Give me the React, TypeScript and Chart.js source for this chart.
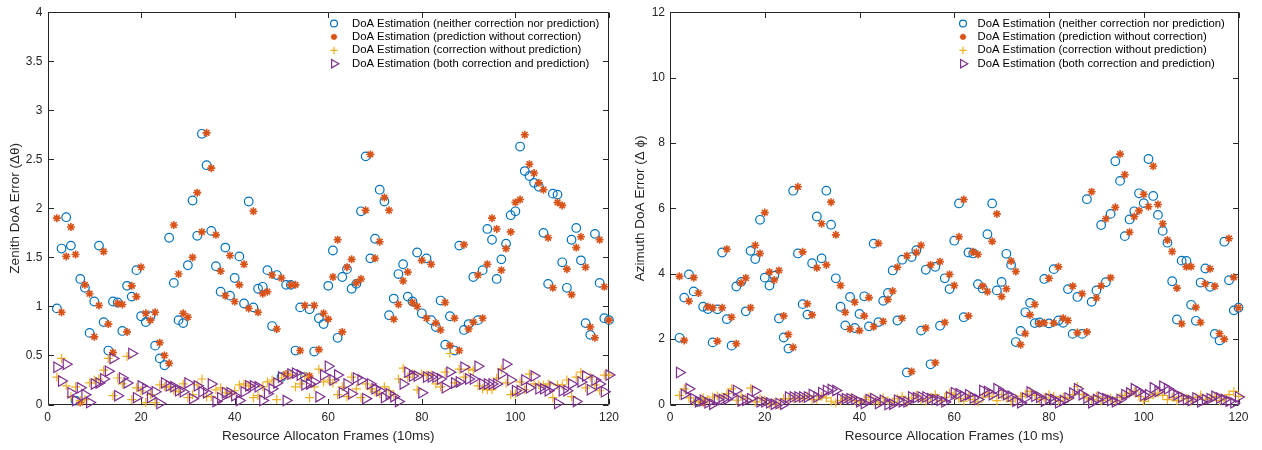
import React, { useEffect, useRef } from 'react';
import { Chart, registerables } from 'chart.js';

Chart.register(...registerables);

// ---------------- DATA ----------------
const frames = [
  2, 3, 4, 5, 6, 7, 8, 9, 10, 11, 12, 13, 14, 15, 16, 17, 18, 19, 20, 21, 22, 23, 24, 25, 26, 27, 28, 29, 30,
  31, 32, 33, 34, 35, 36, 37, 38, 39, 40, 41, 42, 43, 44, 45, 46, 47, 48, 49, 50, 51, 52, 53, 54, 55, 56, 57, 58, 59, 60,
  61, 62, 63, 64, 65, 66, 67, 68, 69, 70, 71, 72, 73, 74, 75, 76, 77, 78, 79, 80, 81, 82, 83, 84, 85, 86, 87, 88, 89, 90,
  91, 92, 93, 94, 95, 96, 97, 98, 99, 100, 101, 102, 103, 104, 105, 106, 107, 108, 109, 110, 111, 112, 113, 114, 115, 116, 117, 118, 119, 120,
];

const legendLabels = [
  'DoA Estimation (neither correction nor prediction)',
  'DoA Estimation (prediction without correction)',
  'DoA Estimation (correction without prediction)',
  'DoA Estimation (both correction and prediction)',
];

// Zenith (left panel)
const zenNeither = [
  0.98, 1.59, 1.91, 1.62, 0.04, 1.28, 1.19, 0.73, 1.05, 1.62, 0.84, 0.55, 1.05, 1.04, 0.75, 1.21, 1.10, 1.37, 0.90, 0.84, 0.90, 0.60, 0.47, 0.40, 1.70, 1.24, 0.86, 0.83, 1.42,
  2.08, 1.72, 2.76, 2.44, 1.77, 1.41, 1.15, 1.60, 1.11, 1.29, 1.51, 1.03, 2.07, 0.99, 1.18, 1.20, 1.37, 0.80, 1.32, 0.28, 1.22, 1.22, 0.55, 0.99, 0.28, 0.97, 0.54, 0.88, 0.82, 1.21,
  1.57, 0.68, 1.30, 1.38, 1.18, 1.23, 1.97, 2.53, 1.49, 1.69, 2.19, 2.07, 0.91, 1.08, 1.33, 1.43, 1.10, 1.05, 1.55, 0.93, 1.49, 0.86, 0.79, 1.06, 0.61, 0.90, 0.55, 1.62, 0.76, 0.82,
  1.30, 0.86, 1.37, 1.79, 1.68, 1.28, 1.48, 1.64, 1.93, 1.97, 2.63, 2.38, 2.33, 2.26, 2.22, 1.75, 1.23, 2.15, 2.14, 1.45, 1.19, 1.68, 1.80, 1.47, 0.83, 0.71, 1.74, 1.24, 0.88, 0.86,
];
const zenPrediction = [
  1.90, 0.94, 1.51, 1.81, 1.53, 0.02, 1.22, 1.13, 0.69, 1.01, 1.56, 0.82, 0.53, 1.03, 1.02, 0.74, 1.21, 1.10, 1.40, 0.93, 0.86, 0.94, 0.63, 0.50, 0.42, 1.83, 1.33, 0.93, 0.89,
  1.50, 2.16, 1.76, 2.77, 2.41, 1.73, 1.36, 1.11, 1.52, 1.05, 1.22, 1.43, 0.98, 1.97, 0.94, 1.13, 1.15, 1.32, 0.77, 1.29, 0.31, 1.22, 1.22, 0.55, 1.01, 0.29, 1.01, 0.56, 0.93, 0.87,
  1.30, 1.68, 0.74, 1.40, 1.48, 1.24, 1.28, 1.98, 2.55, 1.49, 1.66, 2.11, 1.98, 0.87, 1.02, 1.26, 1.35, 1.04, 1.00, 1.47, 0.88, 1.43, 0.83, 0.76, 1.04, 0.60, 0.88, 0.55, 1.63, 0.77,
  0.84, 1.32, 0.88, 1.43, 1.90, 1.79, 1.37, 1.59, 1.76, 2.06, 2.09, 2.75, 2.45, 2.36, 2.26, 2.19, 1.70, 1.19, 2.06, 2.03, 1.38, 1.12, 1.60, 1.71, 1.40, 0.79, 0.68, 1.68, 1.20, 0.86,
];
const zenCorrection = [
  0.28, 0.47, 0.19, 0.08, 0.18, 0.04, 0.05, 0.22, 0.25, 0.26, 0.35, 0.47, 0.09, 0.27, 0.21, 0.49, 0.05, 0.17, 0.14, 0.02, 0.10, 0.02, 0.20, 0.18, 0.18, 0.14, 0.13, 0.21, 0.07,
  0.10, 0.20, 0.26, 0.08, 0.08, 0.15, 0.17, 0.12, 0.11, 0.14, 0.20, 0.21, 0.19, 0.07, 0.09, 0.18, 0.23, 0.25, 0.05, 0.27, 0.30, 0.30, 0.18, 0.21, 0.29, 0.07, 0.18, 0.36, 0.23, 0.25,
  0.22, 0.10, 0.18, 0.08, 0.28, 0.16, 0.07, 0.21, 0.16, 0.13, 0.11, 0.18, 0.14, 0.10, 0.26, 0.37, 0.28, 0.31, 0.15, 0.31, 0.30, 0.30, 0.21, 0.18, 0.33, 0.52, 0.22, 0.36, 0.28, 0.36,
  0.35, 0.19, 0.16, 0.15, 0.15, 0.27, 0.36, 0.22, 0.10, 0.11, 0.23, 0.15, 0.31, 0.21, 0.20, 0.20, 0.21, 0.07, 0.20, 0.20, 0.25, 0.08, 0.28, 0.33, 0.17, 0.28, 0.20, 0.14, 0.30, 0.30,
];
const zenBoth = [
  0.38, 0.24, 0.41, 0.12, 0.04, 0.17, 0.10, 0.02, 0.21, 0.22, 0.26, 0.34, 0.47, 0.09, 0.27, 0.22, 0.52, 0.07, 0.19, 0.16, 0.07, 0.13, 0.01, 0.22, 0.19, 0.18, 0.14, 0.13, 0.22,
  0.06, 0.19, 0.13, 0.12, 0.21, 0.03, 0.07, 0.12, 0.12, 0.09, 0.04, 0.13, 0.19, 0.19, 0.18, 0.04, 0.11, 0.16, 0.22, 0.28, 0.04, 0.31, 0.32, 0.30, 0.20, 0.21, 0.23, 0.08, 0.30, 0.39,
  0.25, 0.30, 0.12, 0.21, 0.11, 0.27, 0.25, 0.06, 0.21, 0.16, 0.14, 0.07, 0.11, 0.08, 0.03, 0.21, 0.33, 0.29, 0.29, 0.12, 0.28, 0.28, 0.28, 0.26, 0.17, 0.33, 0.22, 0.23, 0.38, 0.26,
  0.26, 0.39, 0.21, 0.21, 0.21, 0.21, 0.31, 0.41, 0.25, 0.14, 0.14, 0.25, 0.17, 0.29, 0.16, 0.16, 0.14, 0.18, 0.01, 0.14, 0.14, 0.21, 0.03, 0.23, 0.29, 0.15, 0.25, 0.21, 0.13, 0.30,
];

// Azimuth (right panel)
const aziNeither = [
  2.04, 3.27, 3.98, 3.46, 0.08, 2.99, 2.92, 1.90, 2.91, 4.65, 2.61, 1.80, 3.61, 3.75, 2.85, 4.70, 4.45, 5.65, 3.88, 3.64, 3.94, 2.63, 2.05, 1.71, 6.54, 4.62, 3.07, 2.75, 4.32,
  5.75, 4.47, 6.54, 5.50, 3.86, 2.99, 2.42, 3.29, 2.34, 2.77, 3.31, 2.39, 4.92, 2.52, 3.17, 3.41, 4.10, 2.57, 4.43, 0.98, 4.51, 4.72, 2.26, 4.12, 1.23, 4.21, 2.41, 3.86, 3.53, 5.01,
  6.15, 2.67, 4.65, 4.62, 3.68, 3.55, 5.21, 6.15, 3.49, 3.75, 4.61, 4.27, 1.91, 2.25, 2.82, 3.11, 2.49, 2.51, 3.84, 2.48, 4.14, 2.57, 2.50, 3.53, 2.16, 3.29, 2.16, 6.28, 3.14, 3.49,
  5.49, 3.74, 5.83, 7.44, 6.84, 5.15, 5.66, 5.91, 6.46, 6.16, 7.51, 6.38, 5.80, 5.31, 4.95, 3.77, 2.60, 4.40, 4.39, 3.05, 2.56, 3.73, 4.16, 3.60, 2.16, 1.96, 4.98, 3.80, 2.88, 2.96,
];
const aziPrediction = [
  3.92, 1.96, 3.16, 3.88, 3.41, 0.06, 2.99, 2.96, 1.94, 2.96, 4.75, 2.67, 1.86, 3.72, 3.87, 2.96, 4.87, 4.62, 5.87, 4.05, 3.81, 4.10, 2.71, 2.14, 1.75, 6.66, 4.67, 3.08, 2.74,
  4.18, 5.53, 4.27, 6.19, 5.19, 3.64, 2.82, 2.31, 3.13, 2.26, 2.71, 3.27, 2.38, 4.93, 2.54, 3.21, 3.47, 4.20, 2.64, 4.55, 1.01, 4.65, 4.87, 2.34, 4.27, 1.28, 4.37, 2.51, 3.98, 3.64,
  5.13, 6.27, 2.71, 4.67, 4.59, 3.62, 3.45, 4.99, 5.83, 3.30, 3.54, 4.39, 4.07, 1.83, 2.17, 2.74, 3.06, 2.48, 2.50, 3.86, 2.49, 4.21, 2.64, 2.57, 3.62, 2.20, 3.39, 2.22, 6.51, 3.26,
  3.63, 5.68, 3.88, 6.03, 7.66, 7.03, 5.27, 5.75, 5.93, 6.43, 6.05, 7.29, 6.12, 5.53, 5.03, 4.68, 3.56, 2.47, 4.21, 4.22, 2.97, 2.51, 3.69, 4.15, 3.62, 2.17, 2.00, 5.08, 3.89, 2.96,
];
const aziCorrection = [
  0.28, 0.48, 0.20, 0.10, 0.08, 0.21, 0.15, 0.23, 0.26, 0.23, 0.33, 0.48, 0.13, 0.25, 0.18, 0.50, 0.08, 0.18, 0.13, 0.01, 0.05, 0.00, 0.18, 0.17, 0.18, 0.20, 0.18, 0.25, 0.15,
  0.15, 0.25, 0.20, 0.10, 0.05, 0.12, 0.18, 0.20, 0.12, 0.08, 0.15, 0.22, 0.10, 0.05, 0.20, 0.12, 0.08, 0.18, 0.25, 0.05, 0.20, 0.28, 0.15, 0.10, 0.22, 0.30, 0.12, 0.22, 0.35, 0.30,
  0.18, 0.10, 0.25, 0.15, 0.08, 0.22, 0.35, 0.25, 0.12, 0.30, 0.20, 0.10, 0.18, 0.25, 0.32, 0.40, 0.28, 0.15, 0.20, 0.30, 0.25, 0.12, 0.22, 0.18, 0.30, 0.55, 0.30, 0.20, 0.15, 0.25,
  0.12, 0.20, 0.18, 0.10, 0.22, 0.28, 0.35, 0.40, 0.25, 0.10, 0.20, 0.30, 0.35, 0.28, 0.15, 0.22, 0.12, 0.25, 0.18, 0.10, 0.22, 0.28, 0.15, 0.20, 0.25, 0.12, 0.18, 0.30, 0.40, 0.25,
];
const aziBoth = [
  0.98, 0.31, 0.48, 0.18, 0.08, 0.13, 0.05, 0.01, 0.15, 0.15, 0.17, 0.28, 0.43, 0.11, 0.13, 0.18, 0.41, 0.08, 0.08, 0.05, 0.01, 0.03, 0.01, 0.23, 0.23, 0.23, 0.23, 0.23, 0.31,
  0.23, 0.36, 0.43, 0.46, 0.43, 0.18, 0.18, 0.18, 0.16, 0.08, 0.03, 0.15, 0.18, 0.03, 0.13, 0.00, 0.01, 0.13, 0.08, 0.08, 0.23, 0.21, 0.23, 0.23, 0.18, 0.15, 0.13, 0.08, 0.23, 0.36,
  0.33, 0.25, 0.30, 0.20, 0.15, 0.43, 0.40, 0.30, 0.48, 0.35, 0.30, 0.25, 0.10, 0.05, 0.20, 0.38, 0.25, 0.22, 0.10, 0.18, 0.15, 0.05, 0.12, 0.20, 0.35, 0.48, 0.30, 0.20, 0.05, 0.15,
  0.22, 0.18, 0.12, 0.08, 0.15, 0.30, 0.35, 0.48, 0.40, 0.28, 0.30, 0.51, 0.40, 0.56, 0.48, 0.35, 0.30, 0.22, 0.15, 0.12, 0.20, 0.08, 0.15, 0.18, 0.25, 0.20, 0.15, 0.10, 0.05, 0.23,
];

const xTicks = [0, 20, 40, 60, 80, 100, 120];
const zenTicks = [0, 0.5, 1, 1.5, 2, 2.5, 3, 3.5, 4];
const aziTicks = [0, 2, 4, 6, 8, 10, 12];

// ---------------- STYLE ----------------
const FONT_FAMILY = '"Liberation Sans", Arial, Helvetica, sans-serif';
const AXIS_COLOR = '#262626';
const TICK_FONT = 12;
const TITLE_FONT = 13.5;
const LEGEND_FONT = 11.3;
const TICK_LEN = 5.5;

type MarkerStyle = { style: string; rot: number; r: number; bw: number; color: string };
const SERIES_STYLES: MarkerStyle[] = [
  { style: 'circle', rot: 0, r: 4.3, bw: 1.2, color: '#0072BD' },
  { style: 'star', rot: 0, r: 4, bw: 1.6, color: '#D95319' },
  { style: 'cross', rot: 0, r: 4.5, bw: 1.2, color: '#EDB120' },
  { style: 'triangle', rot: 90, r: 6, bw: 1.2, color: '#7E2F8E' },
];

function drawMarker(ctx: CanvasRenderingContext2D, m: MarkerStyle, x: number, y: number, scale: number) {
  const r = m.r * scale;
  ctx.save();
  ctx.strokeStyle = m.color;
  ctx.lineWidth = m.bw;
  ctx.beginPath();
  if (m.style === 'circle') {
    ctx.arc(x, y, r, 0, Math.PI * 2);
  } else if (m.style === 'star') {
    ctx.moveTo(x - r, y); ctx.lineTo(x + r, y);
    ctx.moveTo(x, y - r); ctx.lineTo(x, y + r);
    const d = r * Math.SQRT1_2;
    ctx.moveTo(x - d, y - d); ctx.lineTo(x + d, y + d);
    ctx.moveTo(x - d, y + d); ctx.lineTo(x + d, y - d);
  } else if (m.style === 'cross') {
    ctx.moveTo(x - r, y); ctx.lineTo(x + r, y);
    ctx.moveTo(x, y - r); ctx.lineTo(x, y + r);
  } else {
    ctx.moveTo(x + r, y);
    ctx.lineTo(x - r / 2, y - r * 0.866);
    ctx.lineTo(x - r / 2, y + r * 0.866);
    ctx.closePath();
  }
  ctx.stroke();
  ctx.restore();
}

const boxPlugin = {
  id: 'matlabBox',
  beforeDatasetsDraw(chart: any) {
    const { ctx, chartArea: a, scales } = chart;
    const L = Math.round(a.left) + 0.5;
    const R = Math.round(a.right) - 0.5;
    const T = Math.round(a.top) + 0.5;
    const B = Math.round(a.bottom) - 0.5;
    ctx.save();
    ctx.strokeStyle = AXIS_COLOR;
    ctx.lineWidth = 1;
    ctx.beginPath();
    ctx.rect(L, T, R - L, B - T);
    scales.x.ticks.forEach((t: any) => {
      const px = Math.round(scales.x.getPixelForValue(t.value)) + 0.5;
      ctx.moveTo(px, B); ctx.lineTo(px, B - TICK_LEN);
      ctx.moveTo(px, T); ctx.lineTo(px, T + TICK_LEN);
    });
    scales.y.ticks.forEach((t: any) => {
      const py = Math.round(scales.y.getPixelForValue(t.value)) + 0.5;
      ctx.moveTo(L, py); ctx.lineTo(L + TICK_LEN, py);
      ctx.moveTo(R, py); ctx.lineTo(R - TICK_LEN, py);
    });
    ctx.stroke();
    ctx.restore();
  },
};

const legendPlugin = {
  id: 'matlabLegend',
  afterDraw(chart: any, _args: any, opts: any) {
    const ctx = chart.ctx as CanvasRenderingContext2D;
    ctx.save();
    ctx.font = `${LEGEND_FONT}px ${FONT_FAMILY}`;
    ctx.textBaseline = 'middle';
    ctx.textAlign = 'left';
    ctx.fillStyle = '#000000';
    chart.data.datasets.forEach((ds: any, i: number) => {
      const y = opts.y0 + i * opts.dy;
      drawMarker(ctx, SERIES_STYLES[i], opts.markerX, y, 0.8);
      ctx.fillText(ds.label, opts.textX, y);
    });
    ctx.restore();
  },
};

type Panel = {
  series: number[][];
  yMax: number;
  yTicks: number[];
  yTitle: string;
  xTitle: string;
  width: number;
  height: number;
  area: { left: number; right: number; top: number; bottom: number };
  legend: { markerX: number; textX: number; y0: number; dy: number };
  yTitlePad: number;
};

function buildConfig(p: Panel): any {
  return {
    type: 'scatter',
    data: {
      datasets: SERIES_STYLES.map((s, i) => ({
        label: legendLabels[i],
        data: frames.map((f, j) => ({ x: f, y: p.series[i][j] })),
        pointStyle: s.style,
        pointRotation: s.rot,
        pointRadius: s.r,
        pointHoverRadius: s.r,
        pointBorderWidth: s.bw,
        borderColor: s.color,
        backgroundColor: 'rgba(0,0,0,0)',
        pointBackgroundColor: 'rgba(0,0,0,0)',
        showLine: false,
        clip: false,
        order: 3 - i,
      })),
    },
    options: {
      responsive: false,
      animation: false,
      devicePixelRatio: 1,
      events: [],
      layout: {
        padding: { left: 0, top: p.area.top, right: p.width - p.area.right, bottom: 0 },
      },
      plugins: {
        legend: { display: false },
        tooltip: { enabled: false },
        matlabLegend: p.legend,
      },
      scales: {
        x: {
          type: 'linear',
          min: 0,
          max: 120,
          afterBuildTicks: (s: any) => { s.ticks = xTicks.map((v) => ({ value: v })); },
          afterFit: (s: any) => { s.height = p.height - p.area.bottom; },
          grid: { display: false, drawTicks: false },
          border: { display: false },
          ticks: {
            color: AXIS_COLOR,
            font: { family: FONT_FAMILY, size: TICK_FONT },
            padding: 6,
            maxRotation: 0,
            callback: (v: any) => `${v}`,
          },
          title: {
            display: true,
            text: p.xTitle,
            color: AXIS_COLOR,
            font: { family: FONT_FAMILY, size: TITLE_FONT },
            padding: { top: 0, bottom: 6 },
          },
        },
        y: {
          type: 'linear',
          min: 0,
          max: p.yMax,
          afterBuildTicks: (s: any) => { s.ticks = p.yTicks.map((v) => ({ value: v })); },
          afterFit: (s: any) => { s.width = p.area.left; },
          grid: { display: false, drawTicks: false },
          border: { display: false },
          ticks: {
            color: AXIS_COLOR,
            font: { family: FONT_FAMILY, size: TICK_FONT },
            padding: 5,
            callback: (v: any) => `${v}`,
          },
          title: {
            display: true,
            text: p.yTitle,
            color: AXIS_COLOR,
            font: { family: FONT_FAMILY, size: TITLE_FONT },
            padding: { top: p.yTitlePad, bottom: 0 },
          },
        },
      },
    },
    plugins: [boxPlugin, legendPlugin],
  };
}

const LEFT_W = 625;
const RIGHT_W = 637;
const H = 450;

export default function App() {
  const leftRef = useRef<HTMLCanvasElement>(null);
  const rightRef = useRef<HTMLCanvasElement>(null);

  useEffect(() => {
    const c1 = new Chart(leftRef.current as HTMLCanvasElement, buildConfig({
      series: [zenNeither, zenPrediction, zenCorrection, zenBoth],
      yMax: 4,
      yTicks: zenTicks,
      yTitle: 'Zenith DoA Error (Δθ)',
      xTitle: 'Resource Allocaton Frames (10ms)',
      width: LEFT_W,
      height: H,
      area: { left: 47.5, right: 612.5, top: 8, bottom: 404.5 },
      legend: { markerX: 334, textX: 352, y0: 23.5, dy: 13.4 },
      yTitlePad: 7,
    }));
    const c2 = new Chart(rightRef.current as HTMLCanvasElement, buildConfig({
      series: [aziNeither, aziPrediction, aziCorrection, aziBoth],
      yMax: 12,
      yTicks: aziTicks,
      yTitle: 'Azimuth DoA Error (Δ ϕ)',
      xTitle: 'Resource Allocation Frames (10 ms)',
      width: RIGHT_W,
      height: H,
      area: { left: 45, right: 613.5, top: 7.5, bottom: 404.5 },
      legend: { markerX: 338, textX: 352.5, y0: 23.5, dy: 13.4 },
      yTitlePad: 7,
    }));
    return () => {
      c1.destroy();
      c2.destroy();
    };
  }, []);

  return (
    <div style={{ position: 'absolute', left: 0, top: 0, width: 1262, height: H, background: '#ffffff', overflow: 'hidden' }}>
      <canvas
        ref={leftRef}
        width={LEFT_W}
        height={H}
        style={{ position: 'absolute', left: 0, top: 0, width: LEFT_W, height: H }}
      />
      <canvas
        ref={rightRef}
        width={RIGHT_W}
        height={H}
        style={{ position: 'absolute', left: LEFT_W, top: 0, width: RIGHT_W, height: H }}
      />
    </div>
  );
}
